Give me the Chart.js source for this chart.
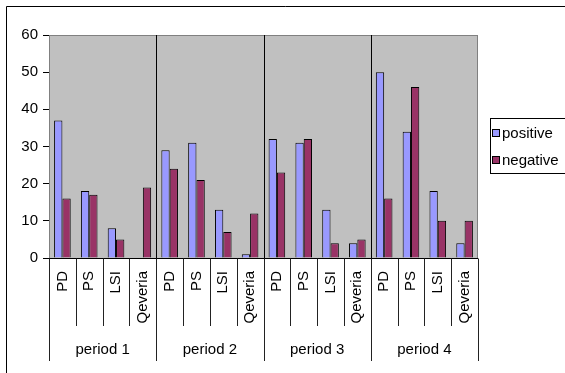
<!DOCTYPE html>
<html>
<head>
<meta charset="utf-8">
<script src="https://cdn.jsdelivr.net/npm/chart.js@4/dist/chart.umd.min.js"></script>
<style>
  html, body { margin: 0; padding: 0; background: #ffffff; }
  #wrap { width: 565px; height: 373px; }
</style>
</head>
<body>
<div id="wrap"><canvas id="c" width="565" height="373"></canvas></div>
<script>
// Grouped categories: each period holds the same four measures
const periods = ['period 1', 'period 2', 'period 3', 'period 4'];
const measures = ['PD', 'PS', 'LSI', 'Qeveria'];

// Counts per measure, period by period
const positive = [37, 18, 8, 0,   29, 31, 13, 1,   32, 31, 13, 4,   50, 34, 18, 4];
const negative = [16, 17, 5, 19,  24, 21, 7, 12,   23, 32, 4, 5,    16, 46, 10, 10];

const yTicks = [0, 10, 20, 30, 40, 50, 60];

const labels = [];
periods.forEach(() => measures.forEach(m => labels.push(m)));

const FONT = '15px "Liberation Sans", Arial, sans-serif';

// Grey plot background, frame and period dividers inside the plot
const plotBackground = {
  id: 'plotBackground',
  beforeDatasetsDraw(chart) {
    const { ctx, chartArea: a, scales } = chart;
    const x = scales.x;
    ctx.save();
    ctx.fillStyle = '#c0c0c0';
    ctx.fillRect(a.left, a.top, a.right - a.left, a.bottom - a.top);
    ctx.strokeStyle = '#808080';
    ctx.lineWidth = 1;
    ctx.strokeRect(Math.round(a.left) + 0.5, Math.round(a.top) + 0.5,
                   Math.round(a.right - a.left) - 1, Math.round(a.bottom - a.top));
    const step = (x.getPixelForTick(1) - x.getPixelForTick(0));
    ctx.strokeStyle = '#000000';
    for (let p = 1; p < periods.length; p++) {
      const px = Math.round(x.getPixelForTick(p * measures.length) - step / 2) + 0.5;
      ctx.beginPath();
      ctx.moveTo(px, a.top);
      ctx.lineTo(px, a.bottom);
      ctx.stroke();
    }
    ctx.restore();
  }
};

// Two-level category axis, legend box and outer chart frame
const axisAndLegend = {
  id: 'axisAndLegend',
  afterDraw(chart) {
    const { ctx, chartArea: a, scales } = chart;
    const x = scales.x;
    const step = (x.getPixelForTick(1) - x.getPixelForTick(0));
    const n = labels.length;
    ctx.save();

    // x axis line
    ctx.strokeStyle = '#000000';
    ctx.lineWidth = 1;
    const yAxis = Math.round(a.bottom) + 0.5;
    ctx.beginPath();
    ctx.moveTo(a.left, yAxis);
    ctx.lineTo(a.right, yAxis);
    ctx.stroke();

    // separators below the axis
    ctx.strokeStyle = '#222222';
    for (let i = 0; i <= n; i++) {
      const px = Math.round(x.getPixelForTick(Math.min(i, n - 1)) + (i === n ? step / 2 : -step / 2)) + 0.5;
      const isPeriod = i % measures.length === 0;
      ctx.beginPath();
      ctx.moveTo(px, yAxis);
      ctx.lineTo(px, isPeriod ? 361 : 326);
      ctx.stroke();
    }

    // rotated measure names
    ctx.fillStyle = '#000000';
    ctx.font = FONT;
    for (let i = 0; i < n; i++) {
      const px = x.getPixelForTick(i);
      ctx.save();
      ctx.translate(px, a.bottom + 13);
      ctx.rotate(-Math.PI / 2);
      ctx.textAlign = 'right';
      ctx.textBaseline = 'middle';
      ctx.fillText(labels[i], 0, 0);
      ctx.restore();
    }

    // period names
    ctx.textAlign = 'center';
    ctx.textBaseline = 'middle';
    periods.forEach((p, k) => {
      const first = x.getPixelForTick(k * measures.length);
      const last = x.getPixelForTick(k * measures.length + measures.length - 1);
      ctx.fillText(p, (first + last) / 2, 350);
    });

    // legend
    const lx = 490.5, ly = 118.5, lw = 80, lh = 55;
    ctx.fillStyle = '#ffffff';
    ctx.fillRect(lx, ly, lw, lh);
    ctx.strokeStyle = '#000000';
    ctx.strokeRect(lx, ly, lw, lh);
    ctx.textAlign = 'left';
    chart.data.datasets.forEach((ds, k) => {
      const cy = 133 + k * 27;
      ctx.fillStyle = ds.backgroundColor;
      ctx.fillRect(492.5, cy - 3.5, 7, 7);
      ctx.strokeStyle = '#000000';
      ctx.strokeRect(492.5, cy - 3.5, 7, 7);
      ctx.fillStyle = '#000000';
      ctx.fillText(ds.label, 502, cy + 1);
    });

    // outer chart frame
    ctx.beginPath();
    ctx.moveTo(6.5, 373);
    ctx.lineTo(6.5, 6.5);
    ctx.lineTo(565, 6.5);
    ctx.stroke();

    ctx.restore();
  }
};

new Chart(document.getElementById('c'), {
  type: 'bar',
  data: {
    labels: labels,
    datasets: [
      { label: 'positive', data: positive, backgroundColor: '#9999ff',
        borderColor: '#000000', borderWidth: 1 },
      { label: 'negative', data: negative, backgroundColor: '#993366',
        borderColor: '#000000', borderWidth: 1 }
    ]
  },
  options: {
    responsive: false,
    animation: false,
    devicePixelRatio: 1,
    categoryPercentage: 0.62,
    barPercentage: 1.0,
    layout: { padding: { top: 35, right: 87, left: 0, bottom: 0 } },
    plugins: { legend: { display: false }, tooltip: { enabled: false } },
    scales: {
      x: {
        grid: { display: false },
        border: { display: false },
        ticks: { display: false },
        afterFit(s) { s.height = 115; }
      },
      y: {
        min: 0,
        max: 60,
        afterBuildTicks(s) { s.ticks = yTicks.map(v => ({ value: v })); },
        grid: { display: true, drawOnChartArea: false, tickLength: 6, color: '#000000' },
        border: { display: true, color: '#000000' },
        ticks: {
          padding: 5,
          color: '#000000',
          font: { family: '"Liberation Sans", Arial, sans-serif', size: 15 }
        },
        afterFit(s) { s.width = 49; }
      }
    }
  },
  plugins: [plotBackground, axisAndLegend]
});
</script>
</body>
</html>
